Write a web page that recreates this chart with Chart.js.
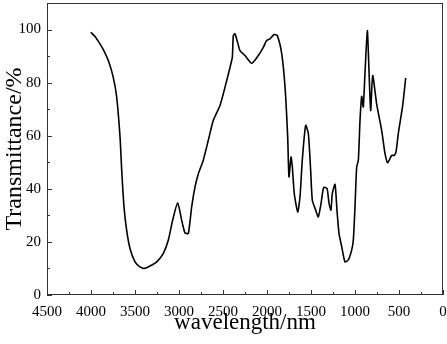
<!DOCTYPE html>
<html>
<head>
<meta charset="utf-8">
<script src="https://cdn.jsdelivr.net/npm/chart.js@4.4.1/dist/chart.umd.min.js"></script>
<style>
  html, body { margin: 0; padding: 0; background: #fff; }
  #wrap { width: 447px; height: 344px; }
</style>
</head>
<body>
<div id="wrap"><canvas id="irChart" width="447" height="344"></canvas></div>
<script>
// wavenumber (cm-1, labelled as wavelength/nm in the figure) and transmittance (%)
const wavenumber = [
  4003, 3950, 3898, 3850, 3803, 3747, 3708, 3670, 3651, 3625, 3595, 3557, 3500, 3443, 3394,
  3330, 3253, 3178, 3121, 3072, 3015, 2970, 2932, 2894, 2856, 2818, 2780, 2724, 2667, 2610,
  2534, 2477, 2420, 2394, 2383, 2364, 2337, 2307, 2250, 2174, 2099, 2042, 2004, 1966, 1920,
  1883, 1833, 1795, 1765, 1750, 1727, 1712, 1690, 1651, 1625, 1599, 1561, 1530, 1504, 1485,
  1447, 1417, 1386, 1356, 1318, 1295, 1273, 1258, 1227, 1205, 1182, 1151, 1114, 1076, 1038,
  1019, 1000, 981, 962, 943, 924, 906, 887, 860, 841, 822, 799, 754, 697, 659,
  629, 583, 553, 534, 508, 458, 424
];
const transmittance = [
  99.0, 97.2, 94.6, 91.8, 88.3, 82.0, 74.5, 59.5, 47.0, 33.2, 24.4, 17.5, 12.5, 10.6, 10.0,
  10.9, 12.5, 15.7, 20.7, 28.2, 34.7, 28.2, 23.4, 23.2, 33.2, 40.7, 45.7, 50.8, 58.3, 65.8,
  71.4, 78.3, 85.8, 89.6, 97.7, 98.4, 95.5, 92.1, 90.2, 87.3, 90.2, 93.3, 95.9, 96.5, 98.1,
  97.7, 90.9, 78.3, 59.5, 44.5, 52.0, 48.2, 38.2, 31.3, 37.0, 50.8, 63.9, 60.8, 47.0, 35.7,
  32.0, 29.4, 34.5, 40.5, 40.1, 34.5, 32.0, 38.2, 41.7, 32.0, 23.2, 18.2, 12.5, 13.2, 16.9,
  20.7, 33.2, 48.2, 50.8, 65.8, 74.8, 70.8, 83.3, 99.6, 84.6, 69.5, 82.7, 72.0, 62.0, 53.3,
  49.8, 52.6, 52.6, 53.9, 60.8, 71.4, 81.8
];
const xTickLabels = ["4500", "4000", "3500", "3000", "2500", "2000", "1500", "1000", "500", "0"];
const yTickLabels = ["0", "20", "40", "60", "80", "100"];

const points = wavenumber.map((w, i) => ({ x: w, y: transmittance[i] }));
const serif = "'Liberation Serif', 'DejaVu Serif', serif";

// inward tick marks and the frame round the plot
const frameTicks = {
  id: "frameTicks",
  afterDraw(chart) {
    const { ctx, chartArea: a, scales } = chart;
    ctx.save();
    ctx.strokeStyle = "#333";
    ctx.lineWidth = 1;
    ctx.strokeRect(a.left + 0.5, a.top + 0.5, a.right - a.left - 1, a.bottom - a.top - 1);
    ctx.beginPath();
    for (let v = 0; v <= 4500; v += 250) {
      const px = Math.round(scales.x.getPixelForValue(v)) + 0.5;
      const len = v % 500 === 0 ? 5 : 3;
      ctx.moveTo(px, a.bottom);
      ctx.lineTo(px, a.bottom - len);
    }
    for (let v = 0; v <= 110; v += 10) {
      const py = Math.round(scales.y.getPixelForValue(v)) + 0.5;
      const len = v % 20 === 0 ? 5 : 3;
      ctx.moveTo(a.left, py);
      ctx.lineTo(a.left + len, py);
    }
    ctx.stroke();
    ctx.restore();
  }
};

new Chart(document.getElementById("irChart").getContext("2d"), {
  type: "line",
  data: {
    datasets: [{
      data: points,
      borderColor: "#000",
      borderWidth: 1.6,
      pointRadius: 0,
      tension: 0.2,
      fill: false
    }]
  },
  options: {
    responsive: false,
    animation: false,
    layout: { padding: { top: 3, right: 4, left: 0, bottom: 0 } },
    plugins: { legend: { display: false }, tooltip: { enabled: false } },
    scales: {
      x: {
        type: "linear",
        reverse: true,
        min: 0,
        max: 4500,
        grid: { display: false, drawTicks: false },
        border: { display: false },
        ticks: {
          stepSize: 500,
          padding: 8,
          color: "#000",
          font: { family: serif, size: 15 },
          maxRotation: 0,
          callback: v => xTickLabels[(4500 - v) / 500]
        },
        title: {
          display: true,
          text: "wavelength/nm",
          color: "#000",
          font: { family: serif, size: 23 },
          padding: { top: 0, bottom: 7 }
        },
        afterFit(scale) {
          scale.height = 49;
          scale.paddingLeft = 0;
          scale.paddingRight = 0;
        }
      },
      y: {
        min: 0,
        max: 110,
        grid: { display: false, drawTicks: false },
        border: { display: false },
        ticks: {
          stepSize: 20,
          padding: 6,
          color: "#000",
          font: { family: serif, size: 15 },
          callback: v => yTickLabels[v / 20]
        },
        title: {
          display: true,
          text: "Transmittance/%",
          color: "#000",
          font: { family: serif, size: 24 },
          padding: { top: 0, bottom: 0 }
        },
        afterFit(scale) {
          scale.width = 47;
          scale.paddingTop = 0;
          scale.paddingBottom = 0;
        }
      }
    }
  },
  plugins: [frameTicks]
});
</script>
</body>
</html>
